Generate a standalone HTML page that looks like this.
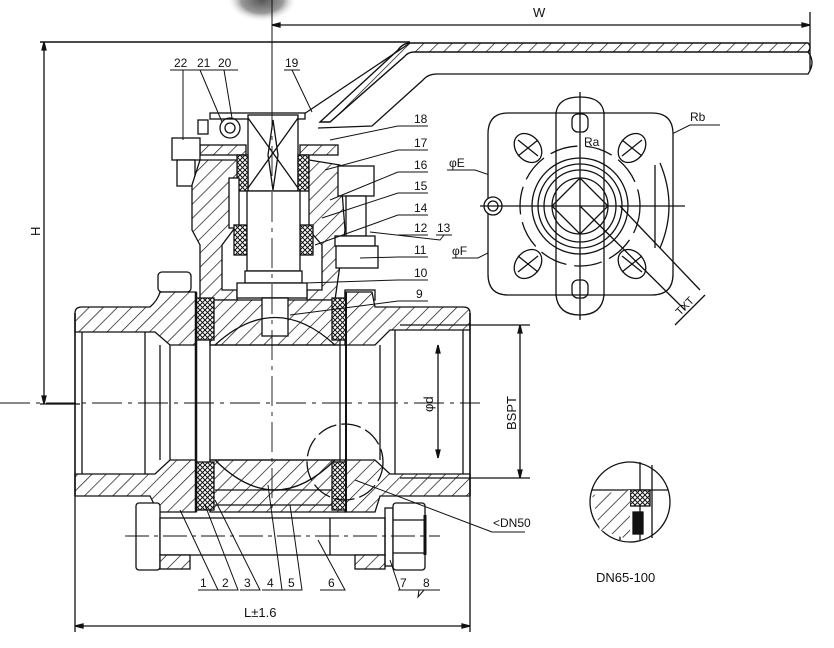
<!DOCTYPE html>
<html><head><meta charset="utf-8"><style>
html,body{margin:0;padding:0;background:#fff;}
svg{display:block;}
text{font-family:"Liberation Sans",sans-serif;fill:#111;}
</style></head><body>
<svg width="834" height="648" viewBox="0 0 834 648" xmlns="http://www.w3.org/2000/svg">
<defs>
<pattern id="h" patternUnits="userSpaceOnUse" width="10" height="10" patternTransform="rotate(45)">
<rect width="10" height="10" fill="#fff"/><line x1="0" y1="0" x2="0" y2="10" stroke="#111" stroke-width="1.4"/></pattern>
<pattern id="x" patternUnits="userSpaceOnUse" width="5" height="5">
<rect width="5" height="5" fill="#fff"/><path d="M0 0L5 5M5 0L0 5" stroke="#111" stroke-width="1"/></pattern>
<radialGradient id="g"><stop offset="0" stop-color="#555"/><stop offset="0.6" stop-color="#999"/><stop offset="1" stop-color="#fff" stop-opacity="0"/></radialGradient>
</defs>
<g fill="none" stroke="#111" stroke-width="1.3">
<ellipse cx="262" cy="0" rx="35" ry="22" fill="url(#g)" stroke="none"/>
<line x1="272" y1="25" x2="810" y2="25"/><line x1="272" y1="0" x2="272" y2="300" stroke-width="1"/><line x1="810" y1="12" x2="810" y2="70"/>
<path d="M272 25l8-2v4zM810 25l-8-2v4z" fill="#111"/>
<line x1="40" y1="42" x2="410" y2="42" stroke-width="1.6"/><line x1="40" y1="404" x2="80" y2="404"/>
<line x1="44" y1="42" x2="44" y2="404"/><path d="M44 42l-2 8h4zM44 404l-2-8h4z" fill="#111"/>
<path d="M410 43L808 43Q812 47 808 52L414 52Q408 52 404 57L330 122L320 122L398 50Q403 43 410 43Z" fill="url(#h)" stroke-width="1.4"/>
<path d="M808 52Q816 62 808 74L437 74Q428 74 423 80L372 126L318 128" />
<line x1="410" y1="43" x2="295" y2="120"/>
<rect x="210" y="113" width="95" height="6" fill="#fff"/>
<rect x="248" y="115" width="50" height="76" fill="#fff"/>
<path d="M248 118L298 188M298 118L248 188M273 120L268 155L273 190L278 155Z"/>
<circle cx="230" cy="128" r="10"/><circle cx="230" cy="128" r="5"/><rect x="198" y="120" width="10" height="14"/>
<rect x="200" y="145" width="46" height="10" fill="url(#h)"/><rect x="300" y="145" width="38" height="10" fill="url(#h)"/>
<rect x="172" y="138" width="28" height="22" fill="#fff"/><rect x="177" y="160" width="18" height="26" fill="#fff"/>
<rect x="237" y="155" width="11" height="36" fill="url(#x)"/><rect x="298" y="155" width="11" height="36" fill="url(#x)"/>
<path d="M200 160L237 160L237 225L222 245L222 290L237 290L237 300L200 300L200 245L192 230L192 185Z" fill="url(#h)"/>
<path d="M309 160L340 165L345 230L335 300L307 300L307 290L322 290L322 245L309 230Z" fill="url(#h)"/>
<rect x="229" y="178" width="10" height="50" fill="#fff"/>
<rect x="234" y="225" width="13" height="30" fill="url(#x)"/><rect x="300" y="225" width="13" height="30" fill="url(#x)"/>
<rect x="247" y="191" width="53" height="80" fill="#fff"/>
<rect x="245" y="271" width="57" height="12" fill="#fff"/>
<rect x="237" y="283" width="70" height="15" fill="#fff"/>
<rect x="262" y="298" width="26" height="38" fill="#fff"/>
<rect x="338" y="166" width="36" height="30" fill="#fff"/><rect x="346" y="196" width="20" height="40" fill="#fff"/>
<rect x="335" y="236" width="40" height="10" fill="#fff"/><rect x="336" y="246" width="42" height="22" fill="#fff"/>
<rect x="158" y="272" width="33" height="20" rx="4" fill="#fff"/>
<rect x="345" y="290" width="30" height="10" fill="#fff"/>
<path d="M75 313Q75 307 82 307L150 307Q158 300 160 292L196 292L196 345L170 345L155 332L75 332Z" fill="url(#h)"/>
<path d="M75 474L155 474L170 460L196 460L196 512L158 512L150 496L75 496Z" fill="url(#h)"/>
<path d="M470 313Q470 307 463 307L375 307L372 292L345 292L345 345L375 345L390 330L470 330Z" fill="url(#h)"/>
<path d="M470 474L390 474L375 460L345 460L345 512L375 512L380 496L470 496Z" fill="url(#h)"/>
<line x1="75" y1="313" x2="75" y2="496" stroke-width="1.6"/><line x1="470" y1="313" x2="470" y2="496" stroke-width="1.6"/>
<line x1="82" y1="332" x2="82" y2="474"/><line x1="145" y1="332" x2="145" y2="474"/><line x1="160" y1="345" x2="160" y2="460"/><line x1="170" y1="345" x2="170" y2="460"/>
<line x1="395" y1="330" x2="395" y2="474"/><line x1="380" y1="345" x2="380" y2="460"/><line x1="463" y1="330" x2="463" y2="474"/>
<path d="M210 300L345 300L345 345L210 345Z" fill="url(#h)"/>
<path d="M210 460L345 460L345 512L210 512Z" fill="url(#h)"/>
<rect x="262" y="298" width="26" height="38" fill="#fff"/>
<path d="M215 345Q275 290 335 345" /><path d="M215 460Q275 520 335 460"/>
<line x1="215" y1="490" x2="340" y2="490"/><line x1="215" y1="505" x2="340" y2="505"/>
<rect x="196" y="298" width="18" height="42" fill="url(#x)"/><rect x="332" y="298" width="14" height="42" fill="url(#x)"/>
<rect x="196" y="462" width="18" height="48" fill="url(#x)"/><rect x="332" y="462" width="14" height="48" fill="url(#x)"/>
<line x1="196" y1="292" x2="196" y2="512" stroke-width="2.5"/><line x1="210" y1="340" x2="210" y2="462"/>
<line x1="340" y1="340" x2="340" y2="462"/><line x1="346" y1="292" x2="346" y2="512" stroke-width="2"/>
<line x1="210" y1="345" x2="340" y2="345"/><line x1="210" y1="460" x2="340" y2="460"/>
<line x1="0" y1="403" x2="480" y2="403" stroke-dasharray="30 6 4 6" stroke-width="0.9"/>
<line x1="272" y1="100" x2="272" y2="520" stroke-dasharray="30 6 4 6" stroke-width="0.9"/>
<circle cx="345" cy="462" r="38" stroke-dasharray="20 5"/>
<rect x="136" y="503" width="24" height="67" rx="3" fill="#fff"/>
<rect x="160" y="518" width="225" height="37" fill="#fff"/><line x1="330" y1="518" x2="330" y2="555"/>
<rect x="160" y="555" width="30" height="14" fill="url(#h)"/><rect x="355" y="555" width="30" height="14" fill="url(#h)"/>
<rect x="385" y="508" width="8" height="58"/>
<rect x="393" y="503" width="32" height="67" rx="3" fill="#fff"/><line x1="393" y1="520" x2="425" y2="520"/><line x1="393" y1="553" x2="425" y2="553"/>
<line x1="425" y1="515" x2="425" y2="555" stroke-width="3"/>
<line x1="125" y1="536" x2="440" y2="536" stroke-dasharray="24 5 4 5" stroke-width="0.9"/>
<line x1="400" y1="325" x2="530" y2="325"/><line x1="400" y1="478" x2="530" y2="478"/>
<line x1="520" y1="325" x2="520" y2="478"/><path d="M520 325l-2 8h4zM520 478l-2-8h4z" fill="#111"/>
<line x1="438" y1="345" x2="438" y2="458"/><path d="M438 345l-2 8h4zM438 458l-2-8h4z" fill="#111"/>
<line x1="470" y1="496" x2="470" y2="632"/>
<line x1="75" y1="626" x2="470" y2="626"/><line x1="75" y1="496" x2="75" y2="632"/><path d="M75 626l8-2v4zM470 626l-8-2v4z" fill="#111"/>
<g stroke-width="1">
<path d="M398 126H428M398 126L330 140"/><path d="M398 150H428M398 150L325 170"/><path d="M398 172H428M398 172L330 200"/>
<path d="M398 193H428M398 193L322 218"/><path d="M398 215H428M398 215L315 245"/><path d="M398 235H428"/>
<path d="M398 257H428M398 257L360 258"/><path d="M398 280H428M398 280L305 283"/><path d="M398 301H428M398 301L290 315"/>
<path d="M436 235H452M444 235L440 240L370 232"/>
<path d="M170 70H195M183 70V140M195 70H212M200 70L222 122M212 70H238M224 70L232 118M284 70H300M292 70L312 112"/>
<path d="M198 590H218L180 510M218 590H238L205 505M240 590H260L215 500M262 590H282L268 485M282 590H302L290 505M320 590H345L318 540M398 590H440M400 590L390 560M419 590L418 597L424 590"/>
<path d="M492 532H525M492 532L355 480"/>
<path d="M447 170H475L580 206L640 220"/><path d="M452 258H478L580 206L655 150"/>
<path d="M690 125H720M690 125L640 150"/><path d="M585 150H640"/>
</g>
<g>
<path d="M508 113H652Q673 113 673 134V274Q673 295 652 295H508Q488 295 488 274V134Q488 113 508 113Z" fill="#fff"/>
<path d="M556 113Q558 97 580 97Q602 97 604 113M556 295Q558 315 580 315Q602 315 604 295"/>
<line x1="556" y1="113" x2="556" y2="295"/><line x1="604" y1="113" x2="604" y2="295"/>
<circle cx="580" cy="206" r="60" stroke-dasharray="28 8"/>
<circle cx="580" cy="206" r="48"/><circle cx="580" cy="206" r="42"/><circle cx="580" cy="206" r="36"/><circle cx="580" cy="206" r="28"/>
<path d="M552 206L580 178L608 206L580 234Z"/>
<ellipse cx="528" cy="148" rx="12" ry="16" transform="rotate(-40 528 148)"/><ellipse cx="632" cy="148" rx="12" ry="16" transform="rotate(40 632 148)"/>
<ellipse cx="528" cy="264" rx="12" ry="16" transform="rotate(40 528 264)"/><ellipse cx="632" cy="264" rx="12" ry="16" transform="rotate(-40 632 264)"/>
<path d="M518 140L538 156M518 156L538 140M622 140L642 156M622 156L642 140M518 256L538 272M518 272L538 256M622 256L642 272M622 272L642 256"/>
<rect x="572" y="114" width="16" height="18" rx="6"/><rect x="572" y="280" width="16" height="18" rx="6"/>
<circle cx="493" cy="206" r="9" fill="#fff"/><circle cx="493" cy="206" r="5"/>
<path d="M660 163Q678 206 660 248"/><line x1="655" y1="165" x2="655" y2="248"/>
<line x1="480" y1="206" x2="685" y2="206"/><line x1="580" y1="92" x2="580" y2="320"/>
<path d="M580 206L685 310M620 206L700 290M675 325L705 295"/>
</g>
<circle cx="630" cy="502" r="40"/>
<path d="M592 490H668M640 462V540M652 465V538M620 520V540" />
<rect x="630" y="490" width="20" height="16" fill="url(#x)"/>
<path d="M592 495L630 490L630 540L600 530Z" fill="url(#h)" stroke="none"/>
<rect x="633" y="512" width="10" height="22" fill="#111"/>
</g>
<g font-size="13">
<text x="533" y="17">W</text>
<text x="0" y="0" transform="translate(40 236) rotate(-90)">H</text>
<text x="174" y="67" font-size="12">22</text><text x="197" y="67" font-size="12">21</text><text x="218" y="67" font-size="12">20</text><text x="285" y="67" font-size="12">19</text>
<g font-size="12"><text x="414" y="123">18</text><text x="414" y="147">17</text><text x="414" y="169">16</text><text x="414" y="190">15</text><text x="414" y="212">14</text><text x="414" y="232">12</text><text x="437" y="232">13</text><text x="414" y="254">11</text><text x="414" y="277">10</text><text x="416" y="298">9</text>
<text x="200" y="587">1</text><text x="222" y="587">2</text><text x="244" y="587">3</text><text x="267" y="587">4</text><text x="288" y="587">5</text><text x="328" y="587">6</text><text x="400" y="587">7</text><text x="423" y="587">8</text></g>
<text x="244" y="617">L±1.6</text>
<text x="493" y="527" font-size="12">&lt;DN50</text>
<text x="596" y="582">DN65-100</text>
<text x="0" y="0" transform="translate(516 430) rotate(-90)">BSPT</text>
<text x="0" y="0" transform="translate(433 412) rotate(-90)">φd</text>
<text x="449" y="167" font-size="12">φE</text><text x="452" y="255" font-size="12">φF</text>
<text x="690" y="121" font-size="12">Rb</text><text x="584" y="146" font-size="12">Ra</text>
<text x="0" y="0" font-size="11" transform="translate(680 316) rotate(-45)">TXT</text>
</g>
</svg>
</body></html>
